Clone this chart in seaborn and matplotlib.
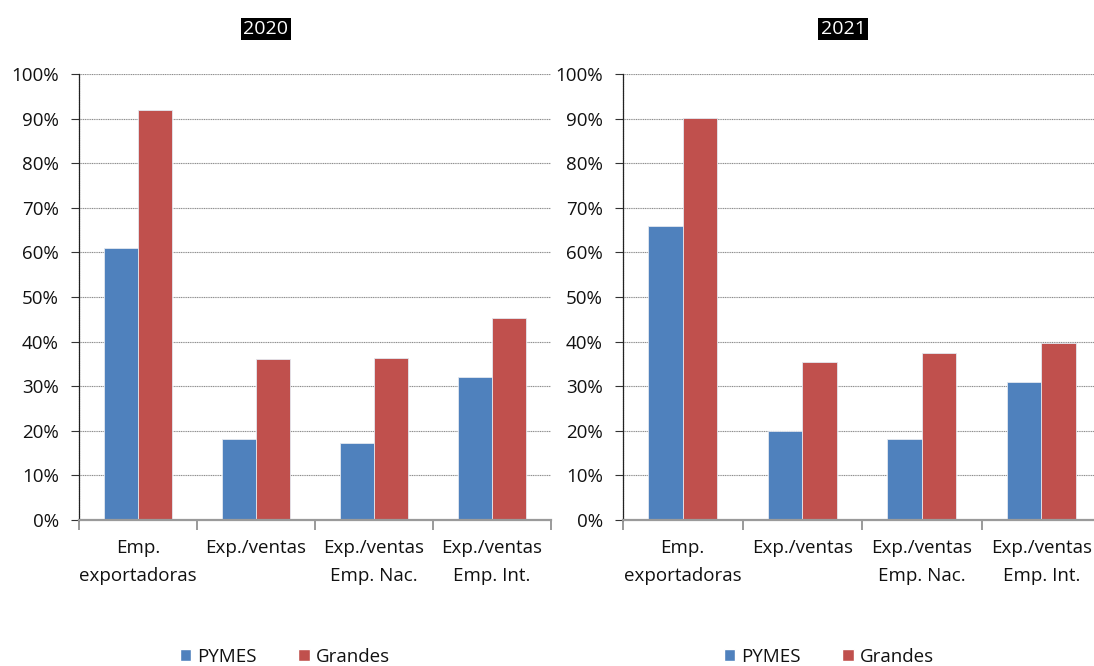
import pandas as pd
import matplotlib.pyplot as plt
import seaborn as sns
from matplotlib.ticker import PercentFormatter, FixedLocator
from matplotlib.patches import Patch

# Data
categories = ["Emp.\nexportadoras", "Exp./ventas", "Exp./ventas\nEmp. Nac.", "Exp./ventas\nEmp. Int."]
series = ["PYMES", "Grandes"]
pymes_2020 = [61.0, 18.2, 17.2, 32.0]
grandes_2020 = [91.9, 36.0, 36.4, 45.3]
pymes_2021 = [65.9, 20.0, 18.2, 31.0]
grandes_2021 = [90.1, 35.4, 37.5, 39.7]
years = ["2020", "2021"]

colors = {"PYMES": "#4F81BD", "Grandes": "#C0504D"}

def make_df(pymes, grandes):
    rows = []
    for c, p, g in zip(categories, pymes, grandes):
        rows.append({"cat": c, "serie": "PYMES", "valor": p})
        rows.append({"cat": c, "serie": "Grandes", "valor": g})
    return pd.DataFrame(rows)

sns.set_style("white")
plt.rcParams["font.family"] = ["Open Sans", "DejaVu Sans"]

W, H = 1094, 666
FS = 13.5
fig = plt.figure(figsize=(W / 100, H / 100), dpi=100)

# data frame, axes left/right edge (px), title centre, legend centre
panels = [
    (make_df(pymes_2020, grandes_2020), 79, 551, 266, 285),
    (make_df(pymes_2021, grandes_2021), 623, 1101, 843, 829),
]

for (df, x0, x1, tx, lx), year in zip(panels, years):
    ax = fig.add_axes([x0 / W, 1 - 520 / H, (x1 - x0) / W, (520 - 74) / H])
    sns.barplot(data=df, x="cat", y="valor", hue="serie", palette=colors,
                hue_order=series, order=categories, width=0.58, ax=ax,
                saturation=1, edgecolor="#e3e8f0", linewidth=0.6,
                legend=False, errorbar=None)
    ax.set_xlim(-0.5, 3.5)
    ax.set_ylim(0, 100)
    ax.yaxis.set_major_locator(FixedLocator(range(0, 101, 10)))
    ax.yaxis.set_major_formatter(PercentFormatter(decimals=0))
    ax.set_xlabel("")
    ax.set_ylabel("")
    ax.grid(axis="y", color="#8c8c8c", linestyle=(0, (1, 0.6)), linewidth=0.8)
    ax.set_axisbelow(True)
    for s in ["top", "right"]:
        ax.spines[s].set_visible(False)
    ax.spines["left"].set_linestyle((0, (1, 0.8)))
    ax.spines["left"].set_color("#222222")
    ax.spines["left"].set_linewidth(0.9)
    ax.spines["bottom"].set_color("#9a9a9a")
    ax.spines["bottom"].set_linewidth(1.6)
    ax.tick_params(axis="y", left=True, length=5.5, width=0.8, color="#333333",
                   labelsize=FS, pad=9, labelcolor="#111111")
    ax.tick_params(axis="x", which="major", length=0, labelsize=FS, pad=14,
                   labelcolor="#111111")
    ax.set_xticks([i - 0.5 for i in range(5)], minor=True)
    ax.tick_params(axis="x", which="minor", bottom=True, length=7, width=1.4,
                   color="#9a9a9a")
    ax.set_xticklabels(categories, linespacing=1.7)
    fig.text(tx / W, 1 - 29 / H, year, ha="center", va="center", color="white",
             fontsize=14, bbox=dict(facecolor="black", edgecolor="none", pad=1.5))

    handles = [Patch(facecolor=colors[s], label=s) for s in series]
    fig.legend(handles=handles, loc="center", ncol=2, frameon=False,
               bbox_to_anchor=(lx / W, 1 - 657 / H), fontsize=FS,
               handlelength=0.6, handleheight=0.6, handletextpad=0.35,
               columnspacing=2.2, labelcolor="#111111")

fig.savefig("out.png", dpi=100)
